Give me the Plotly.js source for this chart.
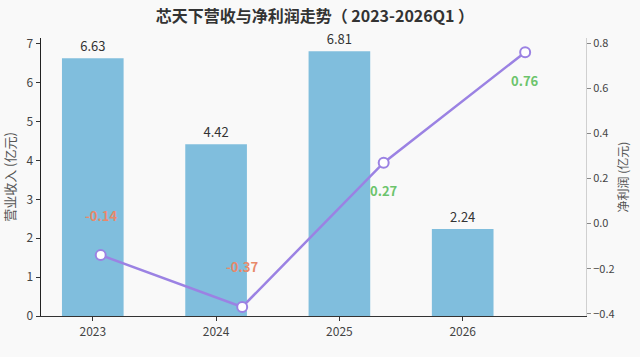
<!DOCTYPE html>
<html>
<head>
<meta charset="utf-8">
<script src="https://cdn.plot.ly/plotly-3.0.1.min.js"></script>
<style>html,body{margin:0;padding:0;background:#f9f9f9;}#chart{width:640px;height:357px;}</style>
</head>
<body>
<div id="chart"></div>
<script>
const years = ["2023", "2024", "2025", "2026"];
const revenue = [6.63, 4.42, 6.81, 2.24];
const netProfit = [-0.14, -0.37, 0.27, 0.76];
const revenueLabels = ["6.63", "4.42", "6.81", "2.24"];
const profitLabels = ["-0.14", "-0.37", "0.27", "0.76"];

const FONT = '"Noto Sans CJK SC", "Noto Sans", sans-serif';

const bars = {
  type: 'bar', x: years, y: revenue, width: 0.5,
  marker: {color: '#80bedd'},
  text: revenueLabels, textposition: 'outside', cliponaxis: false,
  textfont: {size: 13, color: '#333', family: FONT},
  hoverinfo: 'skip', xaxis: 'x', yaxis: 'y'
};
const line = {
  type: 'scatter', mode: 'lines+markers', x: years, y: netProfit,
  line: {color: '#9b82e3', width: 2.5},
  marker: {size: 10, color: '#ffffff', line: {color: '#9b82e3', width: 2}},
  cliponaxis: false, xaxis: 'x2', yaxis: 'y2', hoverinfo: 'skip'
};

const annotations = netProfit.map((v, i) => ({
  x: i, y: v, xref: 'x2', yref: 'y2',
  text: '<b>' + profitLabels[i] + '</b>', showarrow: false,
  yshift: v < 0 ? 40 : -28,
  font: {size: 13, color: v < 0 ? '#e8896a' : '#6cc46c', family: FONT}
}));

const layout = {
  width: 640, height: 357,
  margin: {l: 41, r: 54, t: 38, b: 41},
  paper_bgcolor: '#f9f9f9', plot_bgcolor: '#f9f9f9',
  showlegend: false,
  font: {family: FONT, color: '#444'},
  title: {text: '<b>芯天下营收与净利润走势（ 2023-2026Q1 ）</b>', x: 0.492, xanchor: 'center', y: 0.955, yanchor: 'middle',
          font: {size: 16, color: '#333', family: FONT}},
  xaxis: {
    type: 'category', range: [-0.42, 4.0],
    showline: true, linecolor: '#333', linewidth: 1.2,
    ticks: 'outside', ticklen: 4, tickcolor: '#333',
    tickfont: {size: 12, color: '#444'}, showgrid: false, zeroline: false
  },
  xaxis2: {
    type: 'category', range: [-0.422, 3.43], overlaying: 'x', anchor: 'y2',
    showticklabels: false, ticks: '', showline: false, showgrid: false, zeroline: false
  },
  yaxis: {
    range: [0, 7.15], dtick: 1, showgrid: false, zeroline: false,
    showline: true, linecolor: '#222', linewidth: 1.5,
    ticks: 'outside', ticklen: 4, tickcolor: '#333',
    tickfont: {size: 12, color: '#444'},
    title: {text: '营业收入 (亿元)', font: {size: 13, color: '#555'}, standoff: 10}
  },
  yaxis2: {
    range: [-0.41, 0.823], dtick: 0.2, tickformat: '.1f', overlaying: 'y', side: 'right', anchor: 'x2',
    showgrid: false, zeroline: false,
    showline: true, linecolor: '#d0d0d0', linewidth: 1,
    ticks: 'outside', ticklen: 4, tickcolor: '#888',
    tickfont: {size: 11, color: '#444'},
    title: {text: '净利润 (亿元)', font: {size: 12, color: '#555'}, standoff: 6}
  },
  annotations: annotations
};

Plotly.newPlot('chart', [bars, line], layout, {displayModeBar: false, staticPlot: true});
</script>
</body>
</html>
